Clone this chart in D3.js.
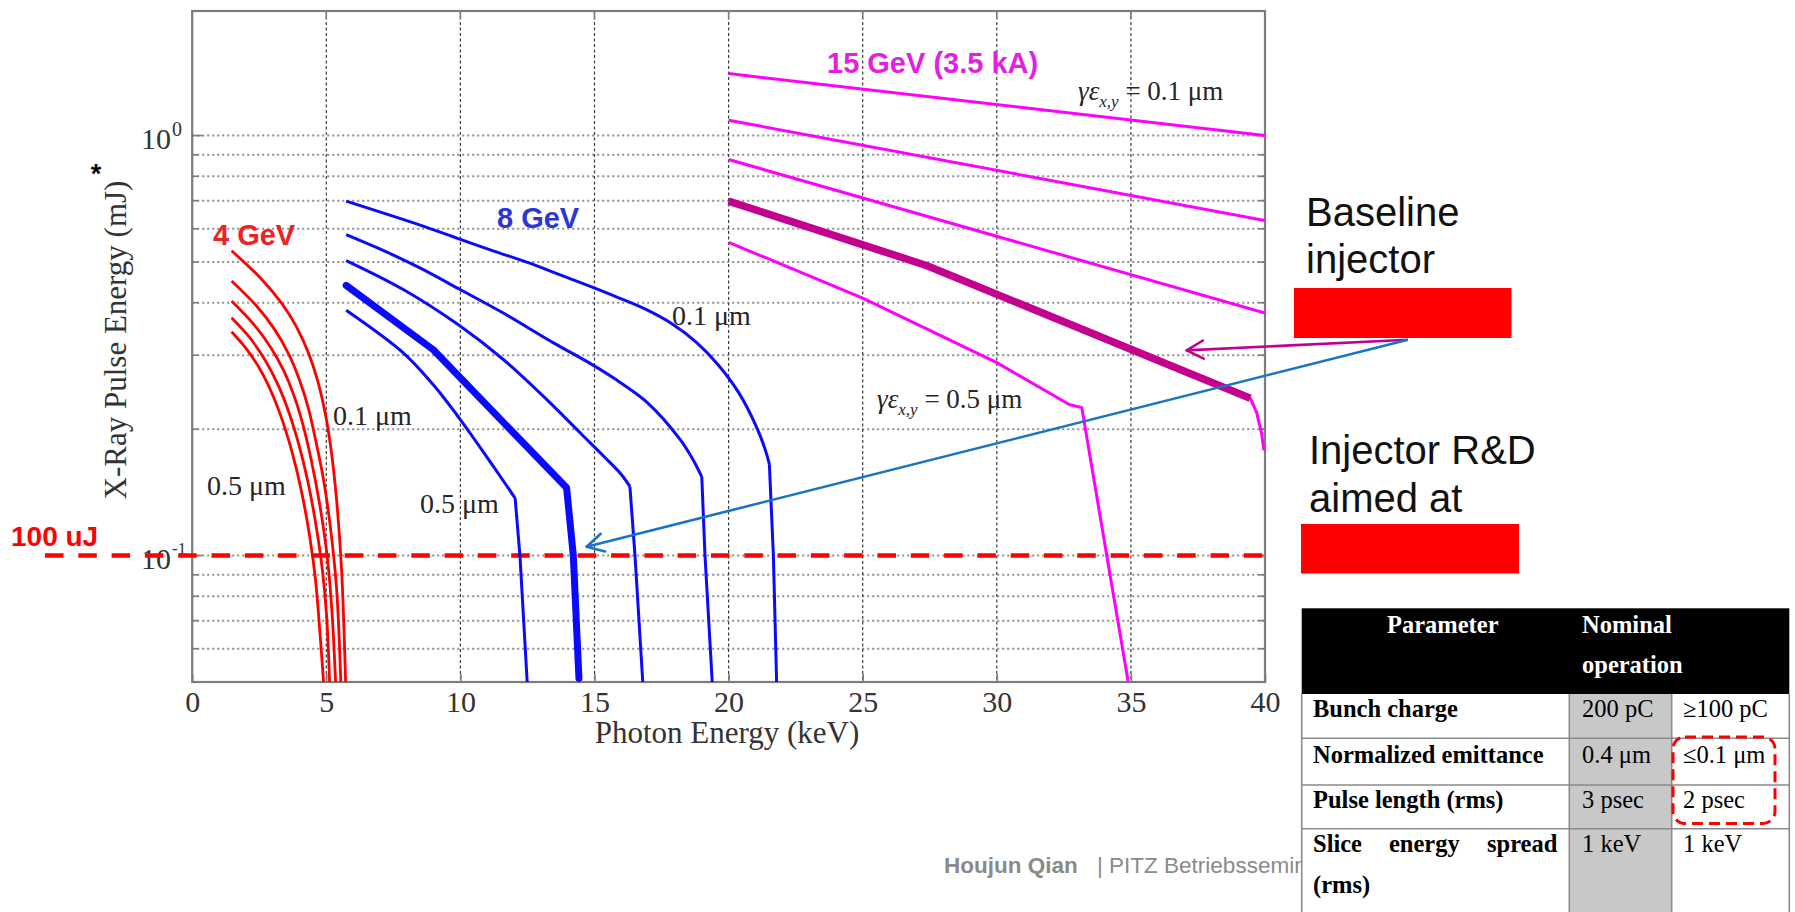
<!DOCTYPE html>
<html>
<head>
<meta charset="utf-8">
<script src="https://cdn.jsdelivr.net/npm/d3@7"></script>
<style>
  html, body { margin: 0; padding: 0; background: #fff; }
  svg { display: block; }
</style>
</head>
<body>
<svg id="chart" width="1795" height="912"></svg>
<script>
// ---------- axis ticks ----------
const xTickValues = [0, 5, 10, 15, 20, 25, 30, 35, 40];
const yDecades = [0.1, 1];
const yDecadeExponents = ["-1", "0"];
const yMinorGrid = [0.06, 0.07, 0.08, 0.09, 0.2, 0.3, 0.4, 0.5, 0.6, 0.7, 0.8, 0.9];

// ---------- 4 GeV curves: [photon energy keV, pulse energy mJ], 0.1 µm .. 0.5 µm ----------
const gev4Curves = [
  [[1.469,0.532],[2.588,0.455],[3.333,0.399],[3.893,0.350],[4.340,0.303],[4.676,0.261],[4.937,0.222],[5.160,0.1824],[5.384,0.1356],[5.570,0.0924],[5.720,0.05]],
  [[1.469,0.4506],[2.401,0.3929],[3.072,0.3456],[3.594,0.3021],[4.004,0.2615],[4.340,0.2233],[4.601,0.1885],[4.899,0.1514],[5.160,0.1158],[5.384,0.0833],[5.541,0.05]],
  [[1.469,0.4039],[2.289,0.3557],[2.923,0.3135],[3.408,0.2759],[3.781,0.2417],[4.116,0.2065],[4.415,0.1717],[4.750,0.1329],[5.048,0.0977],[5.216,0.0727],[5.347,0.05]],
  [[1.469,0.3684],[2.140,0.3306],[2.699,0.2934],[3.184,0.2563],[3.594,0.2204],[3.967,0.1848],[4.303,0.1510],[4.601,0.1197],[4.862,0.0915],[5.011,0.0719],[5.123,0.05]],
  [[1.469,0.3412],[2.028,0.3102],[2.513,0.2789],[2.960,0.2445],[3.371,0.2090],[3.743,0.1744],[4.079,0.1418],[4.377,0.1114],[4.601,0.0871],[4.769,0.0647],[4.899,0.05]]
];

// ---------- 8 GeV curves (last three points: knee and near-vertical tail) ----------
const gev8Curves = [
  [[5.74,0.698],[7.25,0.650],[8.5,0.612],[10,0.566],[11.25,0.531],[12.5,0.499],[13.5,0.472],[14.7,0.441],[15.9,0.411],[16.9,0.386],[17.9,0.356],[18.8,0.322],[19.6,0.285],[20.4,0.243],[21.0,0.205],[21.35,0.180],[21.52,0.165],[21.67,0.10],[21.79,0.05]],
  [[5.74,0.581],[7.2,0.53],[8.49,0.484],[9.99,0.43],[11.6,0.378],[13.47,0.321],[14.71,0.29],[15.7,0.265],[16.95,0.232],[18.19,0.189],[18.7,0.168],[19.0,0.154],[19.12,0.10],[19.39,0.05]],
  [[5.74,0.504],[7.87,0.43],[9.99,0.352],[11.6,0.293],[13.47,0.227],[14.5,0.195],[15.4,0.171],[16.0,0.156],[16.32,0.146],[16.51,0.10],[16.8,0.05]],
  [[5.74,0.384],[7.87,0.304],[8.99,0.255],[9.99,0.211],[11.23,0.163],[12.04,0.137],[12.22,0.10],[12.49,0.05]]
];
const gev8Baseline = [[5.74,0.44],[8.99,0.309],[13.96,0.145],[14.21,0.10],[14.42,0.051]];

// ---------- 15 GeV (3.5 kA) curves ----------
const gev15Curves = [
  [[20,1.405],[40,1.0]],
  [[20,1.088],[40,0.628]],
  [[20,0.877],[40,0.378]],
  [[20,0.698],[27.4,0.49],[39.45,0.237],[39.69,0.219],[39.87,0.196],[39.96,0.178]],
  [[20,0.557],[25,0.41],[30,0.288],[32.7,0.229],[33.17,0.225],[34.1,0.10],[34.9,0.05]]
];
const gev15Baseline = [[20,0.698],[27.4,0.49],[39.45,0.237]];

// 100 uJ target level (mJ)
const targetPulseEnergy = 0.1;

// ---------- parameter table ----------
const tableHeader = ["Parameter", "Nominal", "operation"];
const tableParams = ["Bunch charge", "Normalized emittance", "Pulse length (rms)", "Slice energy spread (rms)"];
const tableNominal = ["200 pC", "0.4 μm", "3 psec", "1 keV"];
const tableGoal = ["≥100 pC", "≤0.1 μm", "2 psec", "1 keV"];

// ======================================================================
const SERIF = "'Liberation Serif','Times New Roman',serif";
const SANS = "'Liberation Sans',Arial,sans-serif";

const svg = d3.select("#chart");
svg.append("rect").attr("width", 1795).attr("height", 912).attr("fill", "#fff");

const plot = { left: 192.2, right: 1265, top: 11, bottom: 682 };
const x = d3.scaleLinear().domain([0, 40]).range([plot.left, plot.right]);
const y = d3.scaleLog().domain([0.05, 1.98]).range([plot.bottom, plot.top]);

// grid
const hGrid = svg.append("g");
hGrid.selectAll("line").data(yMinorGrid.concat(yDecades)).join("line")
  .attr("x1", plot.left).attr("x2", plot.right)
  .attr("y1", d => y(d)).attr("y2", d => y(d))
  .attr("stroke", "#8e8e8e").attr("stroke-width", 2).attr("stroke-dasharray", "2,3");
const vGrid = svg.append("g");
vGrid.selectAll("line").data(xTickValues.filter(v => v > 0 && v < 40)).join("line")
  .attr("x1", d => x(d)).attr("x2", d => x(d))
  .attr("y1", plot.top).attr("y2", plot.bottom)
  .attr("stroke", "#3c3c3c").attr("stroke-width", 1.2).attr("stroke-dasharray", "3,2.5");

// frame
svg.append("rect")
  .attr("x", plot.left).attr("y", plot.top)
  .attr("width", plot.right - plot.left).attr("height", plot.bottom - plot.top)
  .attr("fill", "none").attr("stroke", "#7c7c7c").attr("stroke-width", 2.2);

// inner tick marks on the frame
const yTickAll = yMinorGrid.concat(yDecades);
const sideTicks = svg.append("g").attr("stroke", "#7c7c7c").attr("stroke-width", 1.6);
sideTicks.selectAll("line.l").data(yTickAll).join("line").attr("class", "l")
  .attr("x1", plot.left).attr("x2", d => plot.left + (yDecades.includes(d) ? 10 : 6))
  .attr("y1", d => y(d)).attr("y2", d => y(d));
sideTicks.selectAll("line.r").data(yTickAll).join("line").attr("class", "r")
  .attr("x1", plot.right).attr("x2", d => plot.right - (yDecades.includes(d) ? 10 : 6))
  .attr("y1", d => y(d)).attr("y2", d => y(d));
sideTicks.selectAll("line.t").data(xTickValues).join("line").attr("class", "t")
  .attr("x1", d => x(d)).attr("x2", d => x(d))
  .attr("y1", plot.top).attr("y2", plot.top + 8);

// x axis labels
const xAxis = svg.append("g")
  .attr("transform", `translate(0,${plot.bottom})`)
  .call(d3.axisBottom(x).tickValues(xTickValues).tickFormat(d3.format("d")).tickSize(-8).tickPadding(8.5));
xAxis.select(".domain").remove();
xAxis.selectAll(".tick line").attr("stroke", "#7c7c7c").attr("stroke-width", 1.6);
xAxis.selectAll(".tick text")
  .attr("font-family", SERIF).attr("font-size", 30).attr("fill", "#333");

// y decade labels with superscript exponents
const yLab = svg.append("g").attr("font-family", SERIF).attr("fill", "#333");
yDecades.forEach((v, i) => {
  const t = yLab.append("text").attr("x", 141).attr("y", y(v) + 13.5).attr("font-size", 30);
  t.append("tspan").text("10");
  t.append("tspan").attr("font-size", i === 0 ? 17 : 20).attr("dy", i === 0 ? -15 : -13).attr("dx", 1)
    .text(yDecadeExponents[i]);
});

// axis titles
svg.append("text")
  .attr("x", 727).attr("y", 743).attr("text-anchor", "middle")
  .attr("font-family", SERIF).attr("font-size", 31).attr("fill", "#333")
  .text("Photon Energy (keV)");
svg.append("text")
  .attr("transform", "translate(126,340) rotate(-90)").attr("text-anchor", "middle")
  .attr("font-family", SERIF).attr("font-size", 31).attr("fill", "#333")
  .text("X-Ray Pulse Energy (mJ)");
svg.append("text")
  .attr("x", 96).attr("y", 183).attr("text-anchor", "middle")
  .attr("font-family", SANS).attr("font-weight", "bold").attr("font-size", 27).attr("fill", "#000")
  .text("*");

// 100 uJ level
svg.append("line")
  .attr("x1", 45).attr("x2", x(39.9))
  .attr("y1", y(targetPulseEnergy)).attr("y2", y(targetPulseEnergy))
  .attr("stroke", "#ff0000").attr("stroke-width", 4.5).attr("stroke-dasharray", "18.5,14.8");
svg.append("text")
  .attr("x", 11).attr("y", 546)
  .attr("font-family", SANS).attr("font-weight", "bold").attr("font-size", 28).attr("fill", "#ff0000")
  .text("100 uJ");

// curves
svg.append("defs").append("clipPath").attr("id", "plotClip")
  .append("rect").attr("x", plot.left).attr("y", plot.top)
  .attr("width", plot.right - plot.left).attr("height", plot.bottom - plot.top);

const smooth = d3.line().x(d => x(d[0])).y(d => y(d[1])).curve(d3.curveCatmullRom.alpha(0.5));
const straight = d3.line().x(d => x(d[0])).y(d => y(d[1]));
// smooth rise up to the knee, straight drop after it
const kneed = pts => smooth(pts.slice(0, pts.length - 2)) + straight(pts.slice(pts.length - 3));

const curves = svg.append("g").attr("clip-path", "url(#plotClip)")
  .attr("fill", "none").attr("stroke-linejoin", "round");

curves.append("g").selectAll("path").data(gev15Curves).join("path")
  .attr("d", straight).attr("stroke", "#ff00ff").attr("stroke-width", 3);
curves.append("path").datum(gev15Baseline)
  .attr("d", straight).attr("stroke", "#c4008e").attr("stroke-width", 7.5);

curves.append("g").selectAll("path").data(gev8Curves).join("path")
  .attr("d", kneed).attr("stroke", "#0a0aff").attr("stroke-width", 3);
curves.append("path").datum(gev8Baseline)
  .attr("d", straight).attr("stroke", "#0a0aff").attr("stroke-width", 7).attr("stroke-linecap", "round");

curves.append("g").selectAll("path").data(gev4Curves).join("path")
  .attr("d", smooth).attr("stroke", "#ff0000").attr("stroke-width", 2.8);

// curve family labels
const famLab = svg.append("g").attr("font-family", SANS).attr("font-weight", "bold").attr("font-size", 29);
famLab.append("text").attr("x", 213).attr("y", 245).attr("fill", "#ee2222").text("4 GeV");
famLab.append("text").attr("x", 497).attr("y", 228).attr("fill", "#2b35d8").text("8 GeV");
famLab.append("text").attr("x", 827).attr("y", 73).attr("fill", "#e21fe2").text("15 GeV (3.5 kA)");

// emittance labels
const emLab = svg.append("g").attr("font-family", SERIF).attr("font-size", 28).attr("fill", "#262626");
emLab.append("text").attr("x", 333).attr("y", 425).text("0.1 μm");
emLab.append("text").attr("x", 207).attr("y", 495).text("0.5 μm");
emLab.append("text").attr("x", 420).attr("y", 513).text("0.5 μm");
emLab.append("text").attr("x", 672).attr("y", 325).text("0.1 μm");

function gammaEps(g, px, py, value) {
  const t = g.append("text").attr("x", px).attr("y", py).attr("font-size", 27);
  t.append("tspan").attr("font-style", "italic").text("γε");
  t.append("tspan").attr("font-style", "italic").attr("font-size", 17).attr("dy", 7).text("x,y");
  t.append("tspan").attr("dy", -7).text(" = " + value);
}
gammaEps(emLab, 1078, 100, "0.1 μm");
gammaEps(emLab, 877, 408, "0.5 μm");

// arrows from the notes to the highlighted curves
function arrow(g, from, to, color, width) {
  const [x1, y1] = [x(from[0]), y(from[1])];
  const [x2, y2] = [x(to[0]), y(to[1])];
  g.append("line").attr("x1", x1).attr("y1", y1).attr("x2", x2).attr("y2", y2)
    .attr("stroke", color).attr("stroke-width", width);
  const ang = Math.atan2(y1 - y2, x1 - x2);
  [-1, 1].forEach(s => {
    const a = ang + s * 0.5;
    g.append("line").attr("x1", x2).attr("y1", y2)
      .attr("x2", x2 + 19 * Math.cos(a)).attr("y2", y2 + 19 * Math.sin(a))
      .attr("stroke", color).attr("stroke-width", width).attr("stroke-linecap", "round");
  });
}
const arrows = svg.append("g");
const noteAnchor = [45.33, 0.3265];
arrow(arrows, noteAnchor, [37.08, 0.308], "#c0008e", 2.6);
arrow(arrows, noteAnchor, [14.71, 0.105], "#1a74c6", 2.6);

// notes on the right
const notes = svg.append("g").attr("font-family", SANS).attr("font-size", 40).attr("fill", "#111");
notes.append("text").attr("x", 1306).attr("y", 226).text("Baseline");
notes.append("text").attr("x", 1306).attr("y", 273).text("injector");
notes.append("rect").attr("x", 1294).attr("y", 288).attr("width", 217.5).attr("height", 50).attr("fill", "#ff0000");
notes.append("text").attr("x", 1309).attr("y", 464).text("Injector R&D");
notes.append("text").attr("x", 1309).attr("y", 512).text("aimed at");
notes.append("rect").attr("x", 1301).attr("y", 524).attr("width", 218).attr("height", 49.5).attr("fill", "#ff0000");

// footer
const foot = svg.append("g").attr("font-family", SANS).attr("font-size", 22.5).attr("fill", "#8a8a8a");
foot.append("text").attr("x", 944).attr("y", 873).attr("font-weight", "bold").text("Houjun Qian");
foot.append("text").attr("x", 1097).attr("y", 873).text("| PITZ Betriebsseminar");

// parameter table
const tb = { left: 1301.7, c1: 1569.3, c2: 1671.7, right: 1789.3, top: 608.3, head: 694,
             rows: [694, 738.3, 785, 828.7, 915] };
const table = svg.append("g").attr("font-family", SERIF).attr("font-size", 24.5);
table.append("rect").attr("x", tb.left).attr("y", tb.head).attr("width", tb.right - tb.left)
  .attr("height", 915 - tb.head).attr("fill", "#fff");
table.append("rect").attr("x", tb.c1).attr("y", tb.head).attr("width", tb.c2 - tb.c1)
  .attr("height", 915 - tb.head).attr("fill", "#c8c8c8");
table.append("rect").attr("x", tb.left).attr("y", tb.top).attr("width", tb.right - tb.left)
  .attr("height", tb.head - tb.top).attr("fill", "#000");

const rules = table.append("g").attr("stroke", "#8a8a8a").attr("stroke-width", 1.6);
tb.rows.slice(1, 4).forEach(ry => rules.append("line").attr("x1", tb.left).attr("x2", tb.right).attr("y1", ry).attr("y2", ry));
[tb.left, tb.c1, tb.c2, tb.right].forEach(cx => rules.append("line").attr("x1", cx).attr("x2", cx).attr("y1", tb.head).attr("y2", 915));

table.append("text").attr("x", 1387).attr("y", 633).attr("font-weight", "bold").attr("fill", "#fff").text(tableHeader[0]);
table.append("text").attr("x", 1582).attr("y", 633).attr("font-weight", "bold").attr("fill", "#fff").text(tableHeader[1]);
table.append("text").attr("x", 1582).attr("y", 673).attr("font-weight", "bold").attr("fill", "#fff").text(tableHeader[2]);

const rowBase = [717, 763, 808, 852];
tableParams.forEach((p, i) => {
  if (i < 3) {
    table.append("text").attr("x", 1313).attr("y", rowBase[i]).attr("font-weight", "bold").text(p);
  } else {
    // justified cell: words spread across the column, last word wraps
    const words = p.split(" ");
    const wx = [1313, 1389, 1487];
    words.slice(0, 3).forEach((w, k) => table.append("text").attr("x", wx[k]).attr("y", rowBase[i]).attr("font-weight", "bold").text(w));
    table.append("text").attr("x", 1313).attr("y", 893).attr("font-weight", "bold").text(words[3]);
  }
  table.append("text").attr("x", 1582).attr("y", rowBase[i]).text(tableNominal[i]);
  table.append("text").attr("x", 1683).attr("y", rowBase[i]).text(tableGoal[i]);
});

// dashed highlight around the R&D goals
table.append("rect").attr("x", 1673).attr("y", 737).attr("width", 102).attr("height", 86.5)
  .attr("rx", 12).attr("fill", "none").attr("stroke", "#ff0000").attr("stroke-width", 3)
  .attr("stroke-dasharray", "11,6");
</script>
</body>
</html>
